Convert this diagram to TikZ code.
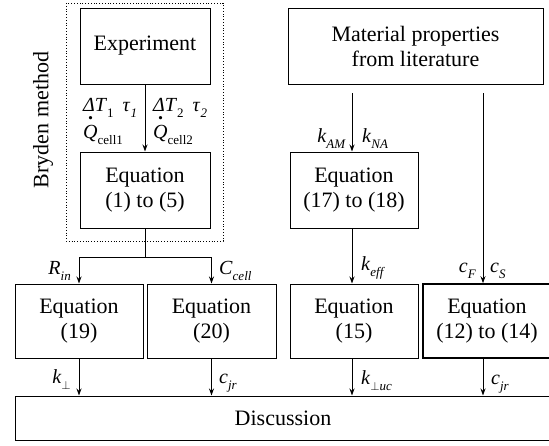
\documentclass[tikz,border=0pt]{standalone}
\usepackage{fontspec}
\setmainfont{Liberation Serif}
\usetikzlibrary{arrows.meta}
\newcommand\lsub[1]{\raisebox{-0.3em}{\fontsize{13}{13}\selectfont #1}}
\newcommand\qd{\makebox[0pt][l]{\hspace{0.25em}\smash{\raisebox{0.95em}{\textbf{.}}}}\textit{Q}}
\begin{document}
\begin{tikzpicture}[x=1pt,y=-1pt,
  box/.style={draw, line width=1pt, align=center, inner sep=0pt,
    font=\fontsize{22}{25}\selectfont},
  lab/.style={inner sep=0pt, font=\fontsize{20}{22}\selectfont},
  arr/.style={-{Stealth[length=7pt,width=5pt]}, line width=1pt},
  ln/.style={line width=1pt}]
\useasboundingbox (0,0) rectangle (549,445);
% boxes
\node[box, minimum width=130, minimum height=76] (exp) at (145,46) {Experiment};
\node[box, minimum width=130, minimum height=76] (e1) at (145,190) {Equation\\(1) to (5)};
\node[box, minimum width=255, minimum height=76] (mat) at (415.5,46) {Material properties\\from literature};
\node[box, minimum width=128, minimum height=76] (e17) at (354,190) {Equation\\(17) to (18)};
\node[box, minimum width=128, minimum height=74] (e19) at (79,321) {Equation\\(19)};
\node[box, minimum width=129, minimum height=74] (e20) at (211.5,321) {Equation\\(20)};
\node[box, minimum width=128, minimum height=74] (e15) at (354,321) {Equation\\(15)};
\node[box, line width=1.6pt, minimum width=128, minimum height=74] (e12) at (487,321) {Equation\\(12) to (14)};
\node[box, minimum width=536, minimum height=44] (disc) at (283,418) {Discussion};
% Bryden group
\draw[dotted, line width=0.8pt] (66,3) rectangle (223,241);
\node[inner sep=0pt, font=\fontsize{22}{25}\selectfont, rotate=90] (bry) at (43,120) {Bryden method};
% arrows
\draw[arr] (exp) -- (e1);
\coordinate (split) at (145,257);
\draw[ln] (e1.south) -- (split);
\draw[arr] (split) -| (e19.north);
\draw[arr] (split) -| (e20.north);
\coordinate (m1) at (352,93);
\coordinate (m2) at (483,93);
\draw[arr] (m1) -- (m1 |- e17.north);
\draw[arr] (m2) -- (m2 |- e12.north);
\draw[arr] (e17.south -| m1) -- (e15.north -| m1);
\draw[arr] (e19) -- (e19 |- disc.north);
\draw[arr] (e20) -- (e20 |- disc.north);
\draw[arr] (e15.south -| m1) -- (m1 |- disc.north);
\draw[arr] (e12.south -| m2) -- (m2 |- disc.north);
% labels
\node[lab, anchor=base west] (l1) at (83,111) {\textit{ΔT}\lsub{1}\hspace{0.45em}\textit{τ}\lsub{\textit{1}}};
\node[lab, anchor=base west] (l2) at (153,111) {\textit{ΔT}\lsub{2}\hspace{0.45em}\textit{τ}\lsub{\textit{2}}};
\node[lab, anchor=base west] (l3) at (83,138) {\qd\lsub{cell1}};
\node[lab, anchor=base west] (l4) at (153,138) {\qd\lsub{cell2}};
\node[lab, anchor=base east] (l5) at (71,274) {\textit{R}\lsub{\textit{in}}};
\node[lab, anchor=base west] (l6) at (219,274) {\textit{C}\lsub{\textit{cell}}};
\node[lab, anchor=base east] (l7) at (71,383) {\textit{k}\lsub{$\perp$}};
\node[lab, anchor=base west] (l8) at (219,383) {\textit{c}\lsub{\textit{jr}}};
\node[lab, anchor=base east] (l9) at (346,142) {\textit{k}\lsub{\textit{AM}}};
\node[lab, anchor=base west] (l10) at (362,142) {\textit{k}\lsub{\textit{NA}}};
\node[lab, anchor=base west] (l11) at (361,270) {\textit{k}\lsub{\textit{eff}}};
\node[lab, anchor=base east] (l12) at (476,272) {\textit{c}\lsub{\textit{F}}};
\node[lab, anchor=base west] (l13) at (490,272) {\textit{c}\lsub{\textit{S}}};
\node[lab, anchor=base west] (l14) at (361,384) {\textit{k}\lsub{$\perp$\textit{uc}}};
\node[lab, anchor=base west] (l15) at (491,384) {\textit{c}\lsub{\textit{jr}}};
\end{tikzpicture}
\end{document}
